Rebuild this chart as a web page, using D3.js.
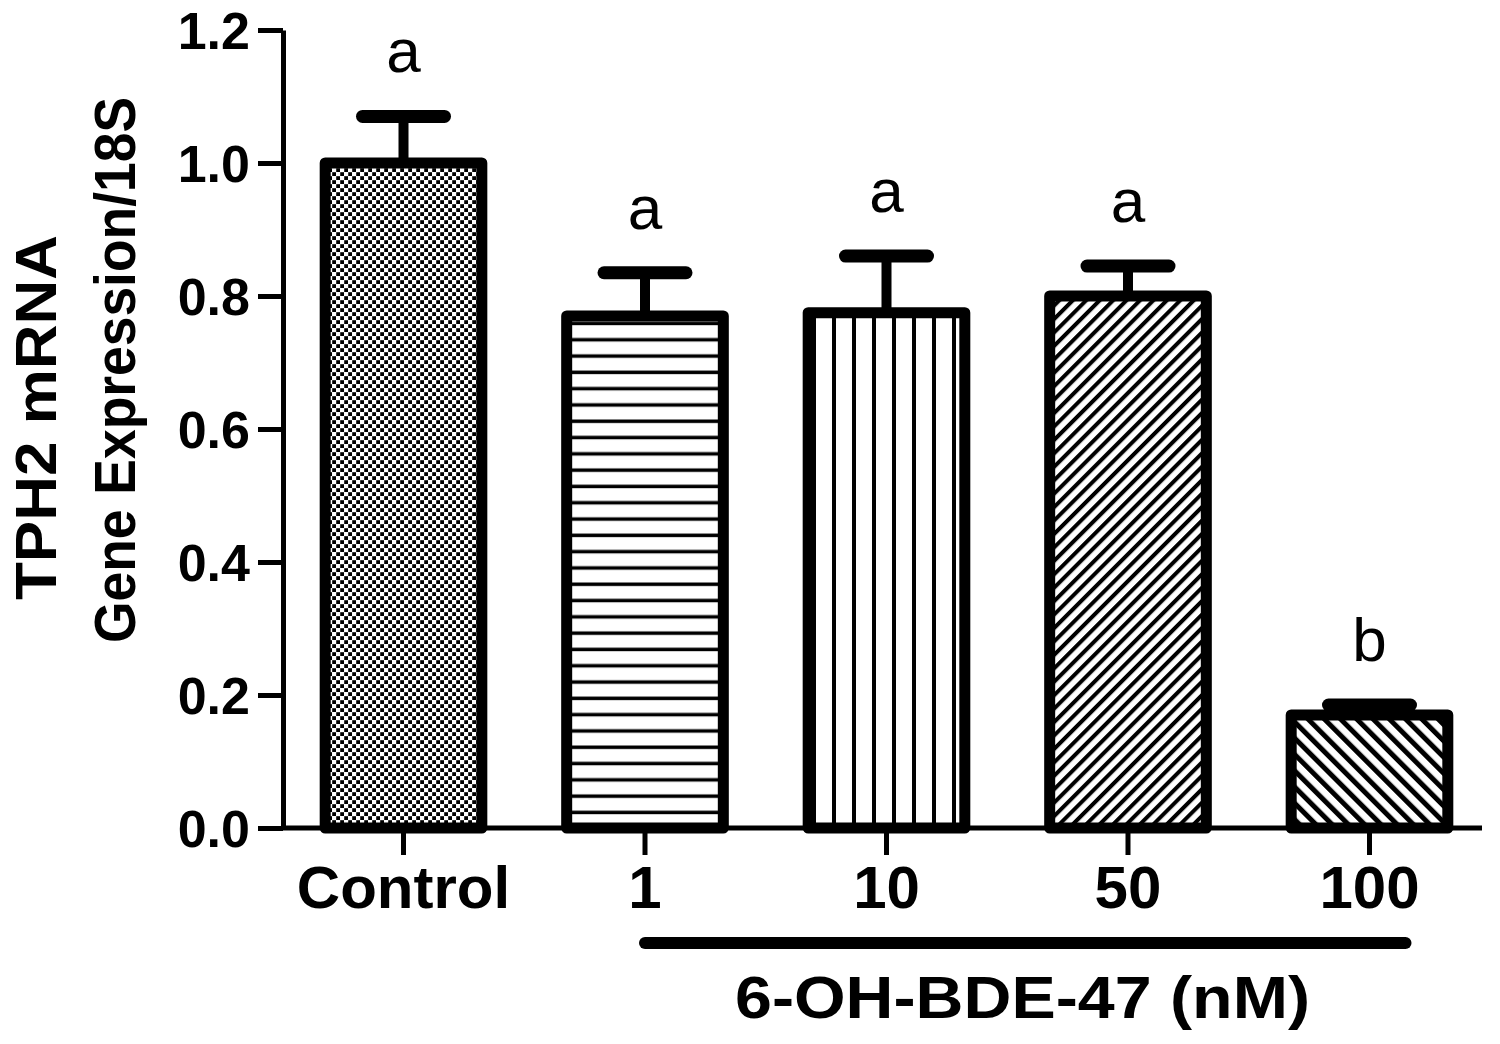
<!DOCTYPE html>
<html>
<head>
<meta charset="utf-8">
<script src="https://cdn.jsdelivr.net/npm/d3@7.9.0/dist/d3.min.js"></script>
<style>
  body { margin: 0; background: #fff; }
  svg { display: block; font-family: "Liberation Sans", Arial, sans-serif; }
</style>
</head>
<body>
<div id="chart"></div>
<script>
// data
const groups = ["Control", "1", "10", "50", "100"];
const means = [1.00, 0.77, 0.775, 0.80, 0.17];
const sems = [0.07, 0.065, 0.085, 0.045, 0.015];
const letters = ["a", "a", "a", "a", "b"];
const patterns = ["dots", "hlines", "vlines", "diagUp", "diagDown"];
const yTicks = [0, 0.2, 0.4, 0.6, 0.8, 1.0, 1.2];

const W = 1500, H = 1044;
const svg = d3.select("#chart").append("svg")
    .attr("width", W)
    .attr("height", H);

const x = d3.scaleBand()
    .domain(groups)
    .range([283, 1490])
    .paddingInner(0.31)
    .paddingOuter(0.154);

const y = d3.scaleLinear()
    .domain([0, 1.2])
    .range([828, 30]);

// hatch patterns
const defs = svg.append("defs");

const pDots = defs.append("pattern").attr("id", "dots")
    .attr("patternUnits", "userSpaceOnUse").attr("width", 8).attr("height", 8);
pDots.append("rect").attr("width", 8).attr("height", 8).attr("fill", "#fff");
pDots.append("rect").attr("x", 0.2).attr("y", 0.2).attr("width", 3.8).attr("height", 3.8).attr("fill", "#000");
pDots.append("rect").attr("x", 4.2).attr("y", 4.2).attr("width", 3.8).attr("height", 3.8).attr("fill", "#000");

const pH = defs.append("pattern").attr("id", "hlines")
    .attr("patternUnits", "userSpaceOnUse").attr("width", 16).attr("height", 16.3);
pH.append("rect").attr("width", 16).attr("height", 16.3).attr("fill", "#fff");
pH.append("rect").attr("y", 12).attr("width", 16).attr("height", 3.5).attr("fill", "#000");

const pV = defs.append("pattern").attr("id", "vlines")
    .attr("patternUnits", "userSpaceOnUse").attr("width", 20).attr("height", 20);
pV.append("rect").attr("width", 20).attr("height", 20).attr("fill", "#fff");
pV.append("rect").attr("x", 12).attr("width", 4).attr("height", 20).attr("fill", "#000");

const pU = defs.append("pattern").attr("id", "diagUp")
    .attr("patternUnits", "userSpaceOnUse").attr("width", 9.5).attr("height", 10)
    .attr("patternTransform", "rotate(45)");
pU.append("rect").attr("width", 9.5).attr("height", 10).attr("fill", "#fff");
pU.append("rect").attr("width", 4).attr("height", 10).attr("fill", "#000");

const pD = defs.append("pattern").attr("id", "diagDown")
    .attr("patternUnits", "userSpaceOnUse").attr("width", 11.5).attr("height", 10)
    .attr("patternTransform", "rotate(-45)");
pD.append("rect").attr("width", 11.5).attr("height", 10).attr("fill", "#fff");
pD.append("rect").attr("width", 5).attr("height", 10).attr("fill", "#000");

const data = groups.map((g, i) => ({
    g, mean: means[i], sem: sems[i], letter: letters[i], pat: patterns[i]
}));

// error bars (drawn first so bar covers the stem)
const err = svg.append("g").attr("stroke", "#000").attr("stroke-linecap", "round");
data.forEach(d => {
    const cx = x(d.g) + x.bandwidth() / 2;
    err.append("line")
        .attr("x1", cx).attr("x2", cx)
        .attr("y1", y(d.mean)).attr("y2", y(d.mean + d.sem))
        .attr("stroke-width", 10);
    err.append("line")
        .attr("x1", cx - 41).attr("x2", cx + 41)
        .attr("y1", y(d.mean + d.sem)).attr("y2", y(d.mean + d.sem))
        .attr("stroke-width", 13);
});

// bars
svg.append("g").selectAll("rect")
    .data(data)
    .join("rect")
    .attr("x", d => x(d.g) + 5)
    .attr("y", d => y(d.mean))
    .attr("width", x.bandwidth() - 10)
    .attr("height", d => y(0) - y(d.mean))
    .attr("fill", d => `url(#${d.pat})`)
    .attr("stroke", "#000")
    .attr("stroke-width", 11)
    .attr("stroke-linejoin", "round");

// significance letters
svg.append("g").selectAll("text")
    .data(data)
    .join("text")
    .attr("x", d => x(d.g) + x.bandwidth() / 2)
    .attr("y", d => y(d.mean + d.sem) - 44)
    .attr("text-anchor", "middle")
    .style("font-size", "62px")
    .text(d => d.letter);

// y axis
const yAxis = svg.append("g")
    .attr("transform", "translate(283,0)")
    .call(d3.axisLeft(y).tickValues(yTicks).tickFormat(d3.format(".1f")).tickSize(25).tickSizeOuter(0).tickPadding(8));
yAxis.select(".domain").attr("stroke-width", 5);
yAxis.selectAll(".tick line").attr("stroke-width", 5);
yAxis.selectAll(".tick text")
    .style("font-size", "52px")
    .style("font-weight", "bold")
    .attr("dy", "0.36em")
    .attr("fill", "#000");

// x axis
const xAxis = svg.append("g")
    .attr("transform", `translate(0,${y(0)})`)
    .call(d3.axisBottom(x).tickSize(27).tickSizeOuter(0).tickPadding(10));
xAxis.select(".domain").attr("d", `M281,0H1482`).attr("stroke-width", 5);
xAxis.selectAll(".tick line").attr("stroke-width", 5);
xAxis.selectAll(".tick text")
    .style("font-size", "60px")
    .style("font-weight", "bold")
    .attr("fill", "#000");

// treatment bracket
svg.append("line")
    .attr("x1", x("1") + x.bandwidth() / 2)
    .attr("x2", x("100") + x.bandwidth() / 2 + 36)
    .attr("y1", 943).attr("y2", 943)
    .attr("stroke", "#000")
    .attr("stroke-width", 12)
    .attr("stroke-linecap", "round");

svg.append("text")
    .attr("x", 735)
    .attr("y", 1018)
    .attr("textLength", 575)
    .attr("lengthAdjust", "spacingAndGlyphs")
    .style("font-size", "60px")
    .style("font-weight", "bold")
    .text("6-OH-BDE-47 (nM)");

// y axis title
svg.append("text")
    .attr("transform", "translate(56,600) rotate(-90)")
    .attr("textLength", 365)
    .attr("lengthAdjust", "spacingAndGlyphs")
    .style("font-size", "58px")
    .style("font-weight", "bold")
    .text("TPH2 mRNA");
svg.append("text")
    .attr("transform", "translate(135,643) rotate(-90)")
    .attr("textLength", 546)
    .attr("lengthAdjust", "spacingAndGlyphs")
    .style("font-size", "58px")
    .style("font-weight", "bold")
    .text("Gene Expression/18S");
</script>
</body>
</html>
